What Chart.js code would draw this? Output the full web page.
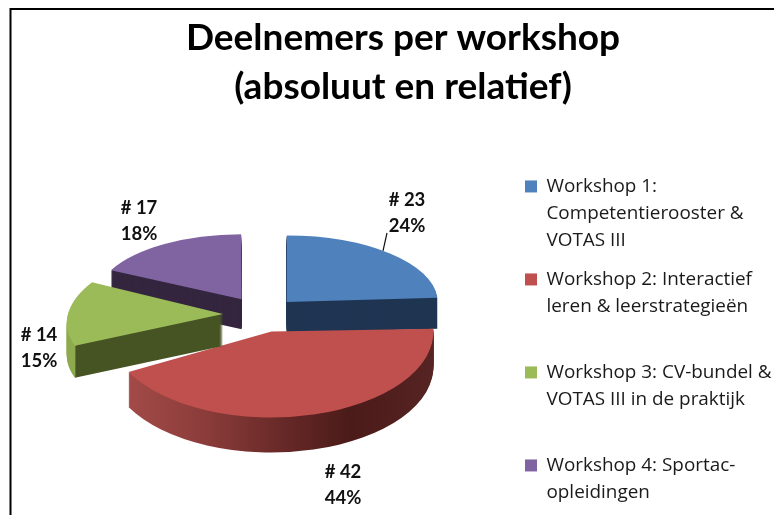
<!DOCTYPE html>
<html>
<head>
<meta charset="utf-8">
<script src="https://cdn.jsdelivr.net/npm/chart.js@4"></script>
<style>
html, body { margin: 0; background: #fff; overflow: hidden; }
canvas { display: block; filter: blur(0.45px); }
</style>
</head>
<body>
<canvas id="pie" width="774" height="515"></canvas>
<script>
const titleLines = ['Deelnemers per workshop', '(absoluut en relatief)'];
const categories = [
    ['Workshop 1:', 'Competentierooster &', 'VOTAS III'],
    ['Workshop 2: Interactief', 'leren & leerstrategieën', ''],
    ['Workshop 3: CV-bundel &', 'VOTAS III in de praktijk', ''],
    ['Workshop 4: Sportac-', 'opleidingen']
];
const participants = [23, 42, 14, 17];
const sliceColors = ['#4f81bd', '#c0504d', '#9bbb59', '#8064a2'];

// 3D look, per slice: radii on screen, explode distance, side depth
const pieCenter = { x: 258, y: 312 };
const radiusX = [151, 162, 155, 146];
const tilt = [0.44, 0.53, 0.47, 0.445];
const explode = [42, 52, 35, 31];
const nudgeY = [3.5, -7, 2, -1];
const shear = [0, 0, -0.27, 0];
const depth = [31, 35, 32, 30];
const drawOrder = [3, 0, 1, 2];
const labelAnchors = [[407, 200], [343, 472], [39, 335], [139, 208]];

function wallFill(ctx, arc, i, R) {
    if (i === 1) {
        const g = ctx.createLinearGradient(arc.x - R, 0, arc.x + R, 0);
        g.addColorStop(0, '#a84e4b');
        g.addColorStop(0.3, '#8a3c3a');
        g.addColorStop(0.55, '#652826');
        g.addColorStop(0.74, '#4b1b19');
        g.addColorStop(1, '#562422');
        return g;
    }
    if (i === 2) {
        // outer rim is lit, the cut face is dark
        const g = ctx.createLinearGradient(arc.x - R, 0, arc.x + R, 0);
        const stop = (Math.cos(arc.startAngle) + 1) / 2;
        g.addColorStop(0, '#8dab4e');
        g.addColorStop(stop, '#8dab4e');
        g.addColorStop(stop, '#465423');
        g.addColorStop(1, '#465423');
        return g;
    }
    return i === 0 ? '#1f3552' : '#35263f';
}

const pie3d = {
    id: 'pie3d',
    beforeDraw(chart) {
        const ctx = chart.ctx;
        ctx.save();
        ctx.strokeStyle = '#000';
        ctx.lineWidth = 2;
        ctx.beginPath();
        ctx.moveTo(10.5, 515);
        ctx.lineTo(10.5, 9);
        ctx.lineTo(774, 9);
        ctx.stroke();
        ctx.restore();
    },
    afterLayout(chart) {
        const legend = chart.legend;
        legend.bottom += 7;
        legend.left = 513;
        legend.right = 774;
    },
    beforeDatasetsDraw(chart) {
        const ctx = chart.ctx;
        const arcs = chart.getDatasetMeta(0).data;
        drawOrder.forEach(i => {
            const arc = arcs[i];
            const base = arc.options;
            // the arc grows a little with its offset, take that out of the scale
            const grow = 1 - Math.sin(Math.min(Math.PI, arc.circumference));
            const sx = (radiusX[i] - explode[i] * grow) / arc.outerRadius;
            const sy = sx * tilt[i];
            const offset = explode[i] * 4 / sx;
            const drawnRadius = radiusX[i] / sx;
            const place = extra => {
                ctx.setTransform(1, 0, 0, 1, 0, 0);
                ctx.translate(pieCenter.x, pieCenter.y + nudgeY[i] + extra);
                ctx.transform(1, 0, shear[i], 1, 0, 0);
                ctx.scale(sx, sy);
                ctx.translate(-arc.x, -arc.y);
            };
            ctx.save();
            arc.options = Object.assign({}, base, { offset, borderWidth: 0, backgroundColor: wallFill(ctx, arc, i, drawnRadius) });
            for (let d = depth[i]; d > 0; d--) {
                place(d);
                arc.draw(ctx);
            }
            arc.options = Object.assign({}, base, { offset, borderWidth: 0, backgroundColor: sliceColors[i] });
            place(0);
            arc.draw(ctx);
            arc.options = base;
            ctx.restore();
        });
        return false;
    },
    afterDraw(chart) {
        const ctx = chart.ctx;
        const total = participants.reduce((a, b) => a + b, 0);
        ctx.save();
        // leader line of the first label
        const apexX = pieCenter.x + explode[0] * Math.sin(Math.PI * 0.24);
        const apexY = pieCenter.y + nudgeY[0] - explode[0] * Math.cos(Math.PI * 0.24) * tilt[0];
        const rim = 0.22 * Math.PI;
        ctx.strokeStyle = '#111';
        ctx.lineWidth = 1.2;
        ctx.beginPath();
        ctx.moveTo(apexX + radiusX[0] * Math.sin(rim), apexY - radiusX[0] * tilt[0] * Math.cos(rim));
        ctx.lineTo(labelAnchors[0][0] - 20, labelAnchors[0][1] + 33);
        ctx.stroke();

        ctx.fillStyle = '#111';
        ctx.font = 'bold 18.5px Lato';
        ctx.textAlign = 'center';
        ctx.textBaseline = 'middle';
        participants.forEach((v, i) => {
            const [x, y] = labelAnchors[i];
            ctx.fillText('# ' + v, x, y);
            ctx.fillText(Math.round(v / total * 100) + '%', x, y + 26);
        });
        ctx.restore();
    }
};

new Chart(document.getElementById('pie'), {
    type: 'pie',
    data: {
        labels: categories,
        datasets: [{ data: participants, backgroundColor: sliceColors, borderWidth: 0 }]
    },
    options: {
        responsive: false,
        animation: false,
        layout: { padding: { left: 32, top: 14 } },
        plugins: {
            tooltip: { enabled: false },
            title: {
                display: true,
                text: titleLines,
                color: '#000',
                font: { family: 'Lato', weight: 'bold', size: 37, lineHeight: 1.32 },
                padding: { top: 0, bottom: 6 }
            },
            legend: {
                position: 'right',
                align: 'end',
                labels: {
                    color: '#1a1a1a',
                    boxWidth: 12,
                    boxHeight: 12,
                    padding: 12,
                    font: { family: 'Open Sans', size: 18.9, lineHeight: 27 / 18.9 }
                }
            }
        }
    },
    plugins: [pie3d]
});
</script>
</body>
</html>
